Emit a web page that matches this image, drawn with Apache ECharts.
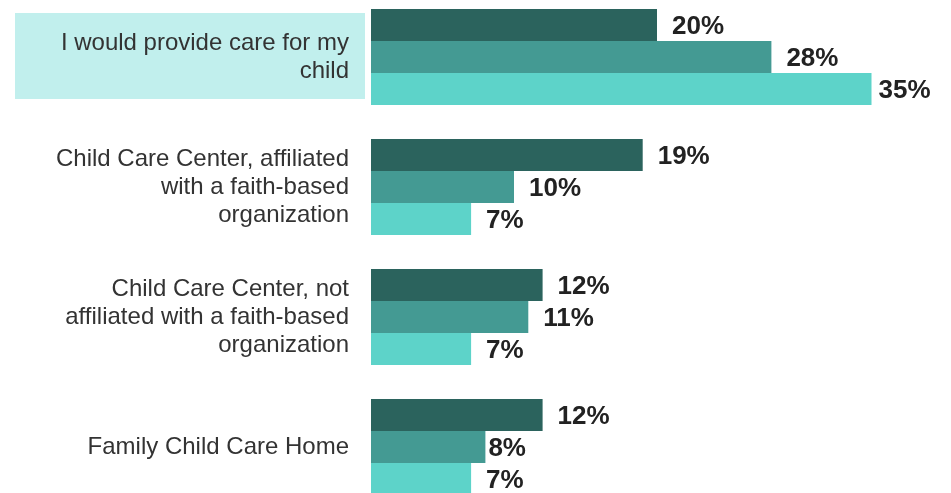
<!DOCTYPE html>
<html><head><meta charset="utf-8">
<script src="https://cdn.jsdelivr.net/npm/echarts@6/dist/echarts.min.js"></script>
<style>html,body{margin:0;padding:0;background:#fff}#c{width:951px;height:493px}</style>
</head><body><div id="c"></div>
<script>
const categories = [
  "I would provide care for my\nchild",
  "Child Care Center, affiliated\nwith a faith-based\norganization",
  "Child Care Center, not\naffiliated with a faith-based\norganization",
  "Family Child Care Home"
];
const seriesA = [20, 19, 12, 12];
const seriesB = [28, 10, 11, 8];
const seriesC = [35, 7, 7, 7];
const seriesNames = ["A", "B", "C"];
const colors = ["#2b635d", "#449a93", "#5dd3c9"];
const highlightIndex = 0;
const FONT = "'Liberation Sans', Arial, sans-serif";
// label distance tweaks (series index - category index)
const labelDistanceOverrides = { "2-0": 7, "1-3": 3 };

const chart = echarts.init(document.getElementById('c'));
const allData = [seriesA, seriesB, seriesC];
const option = {
  animation: false,
  grid: { left: 371, top: -8, height: 520, width: 572, outerBoundsMode: 'none', containLabel: false },
  xAxis: { type: 'value', min: 0, max: 40, show: false },
  yAxis: {
    type: 'category', inverse: true, data: categories,
    axisLine: { show: false }, axisTick: { show: false },
    axisLabel: { margin: 22, color: '#333', fontFamily: FONT, fontSize: 24, lineHeight: 28, align: 'right' }
  },
  series: allData.map((d, i) => ({
    name: seriesNames[i], type: 'bar',
    data: d.map((v, j) => {
      const k = i + '-' + j;
      return k in labelDistanceOverrides ? { value: v, label: { distance: labelDistanceOverrides[k] } } : v;
    }),
    barWidth: 32, barGap: '0%', barCategoryGap: '26%',
    itemStyle: { color: colors[i] },
    label: { show: true, position: 'right', distance: 15, formatter: '{c}%',
      color: '#222', fontWeight: 'bold', fontFamily: FONT, fontSize: 26, offset: [0, 2] }
  }))
};
chart.setOption(option);
const cy = chart.convertToPixel({ yAxisIndex: 0 }, highlightIndex);
chart.setOption({
  graphic: [{ type: 'rect', z: -10, shape: { x: 15, y: cy - 44, width: 350, height: 86 }, style: { fill: '#c1efed' } }]
});
</script></body></html>
